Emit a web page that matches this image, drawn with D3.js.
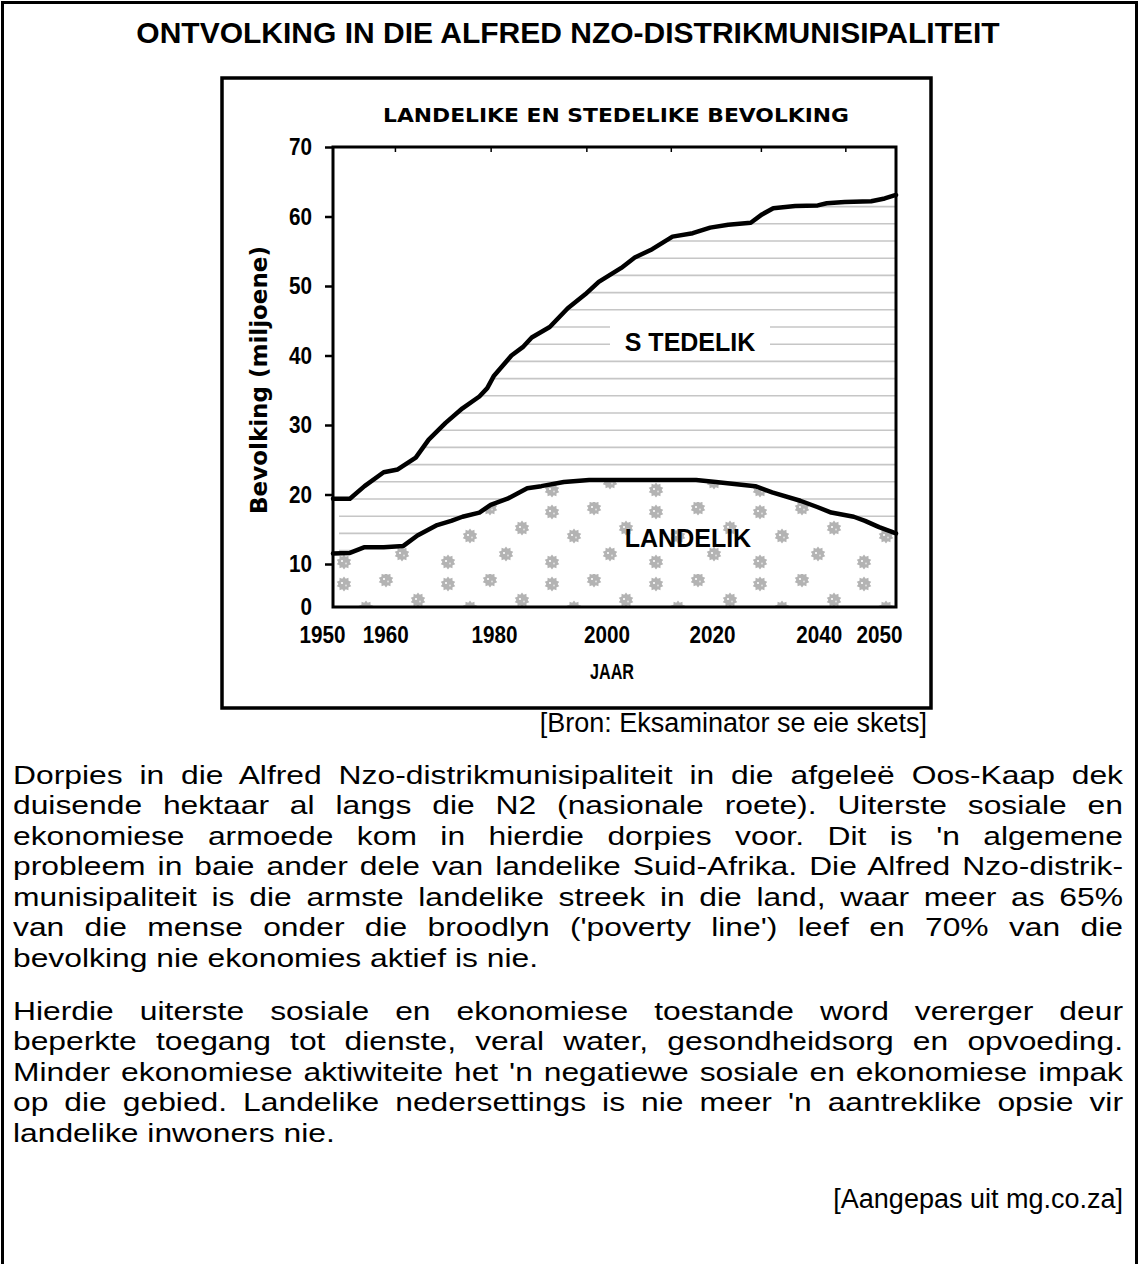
<!DOCTYPE html>
<html>
<head>
<meta charset="utf-8">
<script src="https://cdn.jsdelivr.net/npm/d3@7"></script>
<style>
  body { margin: 0; background: #fff; overflow: hidden; }
  #page { position: relative; width: 1138px; height: 1264px; overflow: hidden; font-family: "Liberation Sans", Arial, sans-serif; }
  #frame { position: absolute; left: 1px; top: 1px; width: 1131px; height: 1400px; border: 3px solid #000; }
  #chart { position: absolute; left: 0; top: 0; }
  /* body text in the scan is wider than Arial at the same height */
  .ln { position: absolute; left: 13px; width: 925px; font-size: 26.5px; line-height: 30.5px; white-space: nowrap;
        text-align: justify; text-align-last: justify; color: #000; transform: scaleX(1.2); transform-origin: 0 0; }
  .ln.last { text-align-last: left; }
  .src { position: absolute; right: 15px; font-size: 27px; line-height: 30.5px; white-space: nowrap; }
</style>
</head>
<body>
<div id="page">
  <div id="frame"></div>
  <svg id="chart"></svg>
  <div id="text"></div>
</div>
<script>
// titles
const mainTitle = "ONTVOLKING IN DIE ALFRED NZO-DISTRIKMUNISIPALITEIT";
const chartTitle = "LANDELIKE EN STEDELIKE BEVOLKING";
const yTitle = "Bevolking (miljoene)";
const xTitle = "JAAR";

// urban line (top curve), millions
const urbanYears = [1950, 1953, 1955.6, 1959, 1961.5, 1964.7, 1967, 1970, 1973, 1976, 1977.4, 1978.6, 1981.7, 1983.7,
  1985.3, 1988.5, 1991.7, 1994.8, 1997.2, 2001.2, 2003.6, 2006.7, 2010.3, 2013.9, 2017, 2020.2, 2024.2, 2026.2,
  2028.2, 2032.1, 2036.1, 2037.7, 2040.9, 2045.6, 2048, 2050];
const urban = [19.4, 19.4, 21.2, 23.2, 23.6, 25.3, 27.9, 30.3, 32.4, 34.1, 35.3, 37.1, 40, 41.2,
  42.6, 44.1, 46.8, 48.8, 50.6, 52.6, 54.1, 55.3, 57.1, 57.6, 58.4, 58.8, 59.1, 60.3,
  61.2, 61.5, 61.6, 61.9, 62.1, 62.2, 62.6, 63.1];

// rural line (bottom curve)
const ruralYears = [1950, 1953, 1955.5, 1959, 1962.5, 1965, 1968.5, 1971, 1973, 1976, 1978, 1981, 1984.5, 1987,
  1991, 1995.5, 2009, 2014.5, 2018, 2025, 2028, 2033, 2036, 2038.5, 2042.5, 2044.5, 2047, 2050];
const rural = [11.5, 11.6, 12.4, 12.4, 12.6, 14.1, 15.6, 16.2, 16.8, 17.4, 18.5, 19.4, 20.9, 21.2,
  21.8, 22.1, 22.1, 22.1, 21.8, 21.2, 20.3, 19.1, 18.2, 17.4, 16.8, 16.2, 15.3, 14.4];

const xTicks = [1950, 1960, 1980, 2000, 2020, 2040, 2050];
const yTicks = [0, 10, 20, 30, 40, 50, 60, 70];
const topTicks = [1961, 1978, 1995, 2010, 2026, 2041];

const para1 = [
  "Dorpies in die Alfred Nzo-distrikmunisipaliteit in die afgeleë Oos-Kaap dek",
  "duisende hektaar al langs die N2 (nasionale roete). Uiterste sosiale en",
  "ekonomiese armoede kom in hierdie dorpies voor. Dit is 'n algemene",
  "probleem in baie ander dele van landelike Suid-Afrika. Die Alfred Nzo-distrik-",
  "munisipaliteit is die armste landelike streek in die land, waar meer as 65%",
  "van die mense onder die broodlyn ('poverty line') leef en 70% van die",
  "bevolking nie ekonomies aktief is nie."
];
const para2 = [
  "Hierdie uiterste sosiale en ekonomiese toestande word vererger deur",
  "beperkte toegang tot dienste, veral water, gesondheidsorg en opvoeding.",
  "Minder ekonomiese aktiwiteite het 'n negatiewe sosiale en ekonomiese impak",
  "op die gebied. Landelike nedersettings is nie meer 'n aantreklike opsie vir",
  "landelike inwoners nie."
];
const source1 = "[Bron: Eksaminator se eie skets]";
const source2 = "[Aangepas uit mg.co.za]";

const sans = "'Liberation Sans', Arial, sans-serif";
const wide = "'DejaVu Sans', Verdana, sans-serif";

const svg = d3.select("#chart").attr("width", 1138).attr("height", 745);

svg.append("text").attr("x", 568).attr("y", 43).attr("text-anchor", "middle")
  .attr("font-family", sans).attr("font-weight", "bold").attr("font-size", 30).text(mainTitle);

// chart box
svg.append("rect").attr("x", 222).attr("y", 78).attr("width", 709).attr("height", 630)
  .attr("fill", "none").attr("stroke", "#000").attr("stroke-width", 3.5);

svg.append("text").attr("x", 616).attr("y", 122).attr("text-anchor", "middle")
  .attr("font-family", wide).attr("font-weight", "bold").attr("font-size", 19.5)
  .attr("textLength", 466).attr("lengthAdjust", "spacingAndGlyphs").text(chartTitle);

const m = { left: 333, top: 147, right: 896, bottom: 607 };
const x = d3.scaleLinear().domain([1950, 2050]).range([m.left, m.right]);
// the sketch squeezes the 0-10 band
const y = d3.scaleLinear().domain([0, 10, 70]).range([m.bottom, 564, m.top]);

const uPts = urbanYears.map((yr, i) => [x(yr), y(urban[i])]);
const rPts = ruralYears.map((yr, i) => [x(yr), y(rural[i])]);

const defs = svg.append("defs");
defs.append("clipPath").attr("id", "band").append("path")
  .attr("d", d3.line()(uPts.concat(rPts.slice().reverse())) + "Z");

// blob texture for the rural area
const pat = defs.append("pattern").attr("id", "blobs").attr("patternUnits", "userSpaceOnUse")
  .attr("x", 330).attr("y", 502).attr("width", 104).attr("height", 72);
const spikes = d3.range(20).map(i => [i * 2 * Math.PI / 20, i % 2 ? 5.6 : 7.6]);
const blobPath = d3.lineRadial().curve(d3.curveLinearClosed)(spikes);
[[14, 10], [56, 6], [88, 26], [36, 34], [72, 52], [14, 60]].forEach(([bx, by]) => {
  const b = pat.append("g").attr("transform", `translate(${bx},${by})`);
  b.append("path").attr("d", blobPath).attr("fill", "#b3b3b3");
  b.append("circle").attr("cx", -2).attr("cy", -1).attr("r", 1.1).attr("fill", "#fff");
  b.append("circle").attr("cx", 2).attr("cy", 1.5).attr("r", 0.9).attr("fill", "#e4e4e4");
});

// horizontal hatching between the curves
const gh = svg.append("g").attr("clip-path", "url(#band)");
gh.selectAll("line").data(d3.range(m.top + 8, m.bottom, 17.2)).enter().append("line")
  .attr("x1", m.left + 6).attr("x2", m.right).attr("y1", d => d).attr("y2", d => d)
  .attr("stroke", "#c6c6c6").attr("stroke-width", 1.6);

svg.append("path")
  .attr("d", d3.area().x(d => d[0]).y0(y(0)).y1(d => d[1])(rPts))
  .attr("fill", "url(#blobs)");

// series labels
const stX = 690, stY = 342;
svg.append("rect").attr("x", stX - 80).attr("y", stY - 17).attr("width", 160).attr("height", 32).attr("fill", "#fff");
const st = svg.append("text").attr("x", stX).attr("y", stY + 9).attr("text-anchor", "middle")
  .attr("font-family", sans).attr("font-weight", "bold").attr("font-size", 25);
st.append("tspan").text("S");
st.append("tspan").attr("dx", 7).text("TEDELIK");

svg.append("text").attr("x", 688).attr("y", 547).attr("text-anchor", "middle")
  .attr("font-family", sans).attr("font-weight", "bold").attr("font-size", 25).text("LANDELIK");

// curves
const line = d3.line();
[uPts, rPts].forEach(p => {
  svg.append("path").attr("d", line(p)).attr("fill", "none").attr("stroke", "#000")
    .attr("stroke-width", 4.5).attr("stroke-linejoin", "round").attr("stroke-linecap", "round");
});

// plot frame
svg.append("rect").attr("x", m.left).attr("y", m.top).attr("width", m.right - m.left).attr("height", m.bottom - m.top)
  .attr("fill", "none").attr("stroke", "#000").attr("stroke-width", 3);

// axes, tick labels squeezed to mimic a narrow bold face
const narrowLabels = sel => sel.attr("font-family", sans).attr("font-weight", "bold").attr("font-size", 24)
  .attr("fill", "#000").attr("lengthAdjust", "spacingAndGlyphs").attr("textLength", d => String(d).length * 11.5);

const gy = svg.append("g").attr("transform", `translate(${m.left},0)`)
  .call(d3.axisLeft(y).tickValues(yTicks).tickSize(8).tickPadding(13));
gy.select(".domain").remove();
gy.selectAll(".tick line").attr("stroke", "#000").attr("stroke-width", 2.5);
gy.selectAll(".tick").filter(d => d === 0).select("line").remove();
gy.selectAll("text").call(narrowLabels);

const labelShift = { 1950: -11, 1960: -4, 1980: -8, 2000: -8, 2020: -15, 2040: -21, 2050: -17 };
const gx = svg.append("g").attr("transform", `translate(0,${m.bottom})`)
  .call(d3.axisBottom(x).tickValues(xTicks).tickFormat(d3.format("d")).tickSize(0).tickPadding(19));
gx.select(".domain").remove();
gx.selectAll("text").attr("dx", d => labelShift[d]).call(narrowLabels);

const gt = svg.append("g").attr("transform", `translate(0,${m.top})`)
  .call(d3.axisBottom(x).tickValues(topTicks).tickSize(5).tickFormat(""));
gt.select(".domain").remove();
gt.selectAll("line").attr("stroke", "#000").attr("stroke-width", 1.5);

svg.append("text").attr("transform", "translate(259,380) rotate(-90)").attr("text-anchor", "middle")
  .attr("dominant-baseline", "central").attr("font-family", wide).attr("font-weight", "bold")
  .attr("font-size", 23).text(yTitle);

svg.append("text").attr("x", 612).attr("y", 679).attr("text-anchor", "middle")
  .attr("font-family", sans).attr("font-weight", "bold").attr("font-size", 22)
  .attr("textLength", 44).attr("lengthAdjust", "spacingAndGlyphs").text(xTitle);

// body text
const txt = d3.select("#text");
txt.append("div").attr("class", "src").style("right", "211px").style("top", (732 - 24.4) + "px").text(source1);
para1.forEach((s, i) => {
  txt.append("div").attr("class", "ln" + (i === para1.length - 1 ? " last" : ""))
    .style("top", (784 + i * 30.5 - 24.4) + "px").text(s);
});
para2.forEach((s, i) => {
  txt.append("div").attr("class", "ln" + (i === para2.length - 1 ? " last" : ""))
    .style("top", (1020 + i * 30.5 - 24.4) + "px").text(s);
});
txt.append("div").attr("class", "src").style("top", (1208 - 24.4) + "px").text(source2);
</script>
</body>
</html>
